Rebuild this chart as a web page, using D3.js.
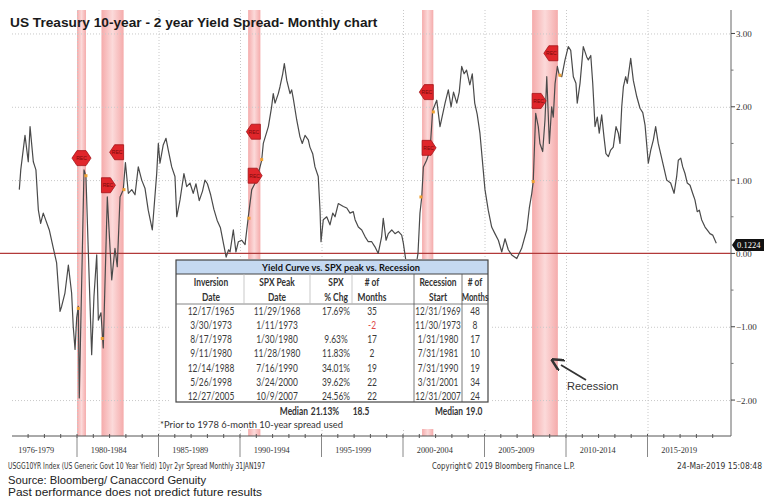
<!DOCTYPE html>
<html><head><meta charset="utf-8">
<script src="https://cdn.jsdelivr.net/npm/d3@7"></script>
<style>body{margin:0;background:#fff}svg{display:block}</style>
</head><body><svg id="c" width="764" height="496"></svg>
<script>
// ---------------- DATA ----------------
const dates = [1976.46,1976.55,1976.81,1977.01,1977.12,1977.32,1977.48,1977.63,1977.77,1977.93,1978.30,1978.55,1978.75,1978.96,1979.06,1979.26,1979.47,1979.67,1979.77,1979.88,1979.98,1980.08,1980.14,1980.43,1980.55,1980.69,1980.90,1981.04,1981.21,1981.31,1981.47,1981.61,1981.86,1982.13,1982.33,1982.47,1982.64,1982.84,1982.97,1983.15,1983.36,1983.56,1983.76,1983.97,1984.17,1984.37,1984.62,1984.89,1984.99,1985.09,1985.29,1985.46,1985.60,1985.81,1986.01,1986.12,1986.32,1986.56,1986.73,1986.93,1987.13,1987.30,1987.50,1987.70,1987.85,1988.00,1988.20,1988.40,1988.60,1988.80,1989.00,1989.15,1989.30,1989.39,1989.59,1989.75,1989.90,1990.10,1990.31,1990.51,1990.72,1990.86,1991.02,1991.33,1991.43,1991.74,1991.94,1992.04,1992.15,1992.35,1992.45,1992.62,1992.72,1992.87,1993.07,1993.17,1993.27,1993.48,1993.68,1993.82,1993.99,1994.19,1994.29,1994.46,1994.60,1994.80,1994.91,1994.97,1995.11,1995.32,1995.52,1995.69,1995.83,1996.03,1996.34,1996.55,1996.75,1996.95,1997.06,1997.26,1997.47,1997.67,1997.87,1998.08,1998.28,1998.48,1998.69,1998.79,1998.96,1999.10,1999.31,1999.51,1999.71,1999.92,2000.02,2000.17,2000.30,2000.50,2000.70,2000.85,2000.92,2001.04,2001.15,2001.25,2001.45,2001.66,2001.82,2002.07,2002.27,2002.58,2002.78,2002.95,2003.10,2003.30,2003.45,2003.60,2003.75,2003.90,2004.10,2004.25,2004.40,2004.55,2004.72,2005.03,2005.23,2005.44,2005.64,2005.85,2006.06,2006.26,2006.46,2006.67,2006.98,2007.28,2007.59,2007.75,2007.90,2007.99,2008.14,2008.30,2008.40,2008.57,2008.71,2008.82,2008.98,2009.12,2009.22,2009.33,2009.47,2009.59,2009.74,2009.94,2010.14,2010.29,2010.45,2010.61,2010.69,2010.86,2011.06,2011.27,2011.37,2011.52,2011.64,2011.78,2011.92,2012.04,2012.19,2012.33,2012.45,2012.60,2012.74,2012.90,2013.07,2013.21,2013.31,2013.42,2013.52,2013.66,2013.76,2013.97,2014.13,2014.34,2014.54,2014.71,2014.85,2015.05,2015.20,2015.36,2015.50,2015.66,2015.87,2016.18,2016.42,2016.63,2016.79,2016.89,2017.04,2017.16,2017.30,2017.44,2017.61,2017.77,2017.91,2018.05,2018.18,2018.32,2018.53,2018.73,2018.83,2019.00,2019.14,2019.22];
const spread = [0.87,1.14,1.61,1.25,1.73,1.25,1.14,0.59,0.41,0.55,0.32,0.07,-0.13,-0.79,-0.72,-0.54,-0.16,-0.54,-1.00,-1.31,-0.88,-0.72,-1.97,1.14,1.05,0.05,-1.38,-0.59,-0.02,-0.91,-0.81,-1.29,0.77,-0.36,0.07,-0.18,0.77,0.87,1.24,0.82,0.87,0.80,1.18,1.00,0.89,0.59,0.32,1.09,1.50,1.23,1.48,1.57,1.41,1.18,1.05,0.50,0.73,1.09,0.91,0.96,0.82,0.95,0.72,0.85,1.00,0.95,0.80,0.60,0.45,0.35,0.12,-0.05,0.05,0.02,0.32,0.02,0.16,0.18,0.12,0.50,0.87,0.93,1.00,1.27,1.50,1.73,2.00,2.18,2.05,2.18,2.27,2.45,2.59,2.36,2.18,2.23,2.11,1.82,1.59,1.50,1.61,1.55,1.45,1.36,1.18,1.05,0.59,0.16,0.46,0.50,0.39,0.55,0.50,0.68,0.64,0.62,0.55,0.57,0.46,0.36,0.32,0.23,0.16,0.16,0.09,0.00,0.23,0.48,0.18,0.27,0.32,0.27,0.30,0.25,0.14,-0.09,-0.45,-0.30,-0.20,-0.10,0.00,0.55,0.77,1.18,1.27,1.41,1.95,2.09,1.73,2.05,2.23,2.00,2.20,2.05,2.20,2.55,2.45,2.50,2.30,2.45,2.05,1.90,1.64,0.87,0.59,0.36,0.27,0.18,0.02,0.20,0.05,-0.02,-0.07,0.07,0.32,0.62,0.82,0.98,1.91,1.73,1.50,1.39,1.82,2.41,1.50,2.00,1.86,2.32,2.55,2.43,2.41,2.64,2.82,2.77,2.41,2.32,2.05,2.32,2.82,2.68,2.64,2.70,2.32,1.73,1.86,1.64,1.89,1.59,1.36,1.32,1.41,1.45,1.73,1.64,1.50,2.00,2.27,2.41,2.32,2.66,2.36,2.14,1.98,1.92,1.75,1.23,1.41,1.55,1.73,1.50,1.30,1.00,0.96,0.82,1.05,1.27,1.30,1.18,1.09,0.96,0.93,0.82,0.73,0.57,0.59,0.46,0.36,0.30,0.27,0.25,0.18,0.14];
const lastValue = "0.1224";

const recStart = [1980.0, 1981.5, 1990.5, 2001.17, 2007.92];
const recEnd   = [1980.55, 1982.86, 1991.25, 2001.86, 2009.5];
const recStartMarker = [1.30, 0.93, 1.06, 1.44, 2.08];
const recEndMarker   = [1.30, 1.38, 1.66, 2.20, 2.73];

const dotDates  = [1980.08, 1980.55, 1981.55, 1982.88, 1990.55, 1991.33, 2001.10, 2001.86, 2007.99, 2009.63];
const dotValues = [-0.75, 1.06, -1.16, 0.87, 0.48, 1.28, 0.77, 1.93, 0.98, 2.43];

const yTicks = [3, 2, 1, 0, -1, -2];
const yMinor = [2.5, 1.5, 0.5, -0.5, -1.5];
const periodStarts = [1976, 1980, 1985, 1990, 1995, 2000, 2005, 2010, 2015];
const periodLabels = ["1976-1979","1980-1984","1985-1989","1990-1994","1995-1999","2000-2004","2005-2009","2010-2014","2015-2019"];
const yearTicks = d3.range(1977, 2020);

const tableTitle = "Yield Curve vs. SPX peak vs. Recession";
const colHead1 = ["Inversion","SPX Peak","SPX","# of","Recession","# of"];
const colHead2 = ["Date","Date","% Chg","Months","Start","Months"];
const tableRows = [
  ["12/17/1965","11/29/1968","17.69%","35","12/31/1969","48"],
  ["3/30/1973","1/11/1973","","-2","11/30/1973","8"],
  ["8/17/1978","1/30/1980","9.63%","17","1/31/1980","17"],
  ["9/11/1980","11/28/1980","11.83%","2","7/31/1981","10"],
  ["12/14/1988","7/16/1990","34.01%","19","7/31/1990","19"],
  ["5/26/1998","3/24/2000","39.62%","22","3/31/2001","34"],
  ["12/27/2005","10/9/2007","24.56%","22","12/31/2007","24"]
];
const medianRow = ["Median","21.13%","18.5","Median","19.0"];
const footnote = "*Prior to 1978 6-month 10-year spread used";

// ---------------- CHART ----------------
const svg = d3.select("#c");
const W = 764;
const pL = 12, pR = 731, pT = 10, pB = 436;
const x = d3.scaleLinear().domain([1980, 2020]).range([77, 729]);
const y = d3.scaleLinear().domain([-2.49, 3.32]).range([pB, pT]);

const defs = svg.append("defs");
const g1 = defs.append("linearGradient").attr("id","recg").attr("x1","0").attr("x2","1").attr("y1","0").attr("y2","0");
g1.append("stop").attr("offset","0").attr("stop-color","#f39c9c");
g1.append("stop").attr("offset","0.5").attr("stop-color","#fbd3d3");
g1.append("stop").attr("offset","1").attr("stop-color","#f39c9c");
defs.append("marker").attr("id","arr").attr("viewBox","0 0 10 10").attr("refX",1).attr("refY",5)
  .attr("markerWidth",7).attr("markerHeight",7).attr("orient","auto")
  .append("path").attr("d","M0,0 L10,5 L0,10").attr("fill","none").attr("stroke","#333").attr("stroke-width",2);

// recession bars
svg.append("g").selectAll("rect").data(recStart).join("rect")
  .attr("x", d => x(d)).attr("width", (d,i) => x(recEnd[i]) - x(d))
  .attr("y", pT).attr("height", pB - pT)
  .attr("fill","url(#recg)").attr("opacity",0.85);

// gridlines
const grid = svg.append("g").attr("stroke","#c8c8c8").attr("stroke-dasharray","1,2").attr("stroke-width",1);
grid.selectAll("line.h").data(yTicks.filter(d => d !== 0)).join("line")
  .attr("x1", pL).attr("x2", pR).attr("y1", d => y(d)+0.5).attr("y2", d => y(d)+0.5);
grid.selectAll("line.v").data(periodStarts.slice(1)).join("line")
  .attr("y1", pT).attr("y2", pB).attr("x1", d => x(d)+0.5).attr("x2", d => x(d)+0.5);

// zero line
svg.append("line").attr("x1", 0).attr("x2", pR).attr("y1", y(0)).attr("y2", y(0))
  .attr("stroke","#b23a3a").attr("stroke-width",1.2);

// data line
const line = d3.line().x((d,i) => x(dates[i])).y(d => y(d));
svg.append("path").datum(spread).attr("d", line).attr("fill","none")
  .attr("stroke","#4a4a4a").attr("stroke-width",1.2).attr("stroke-linejoin","round");

// orange dots
svg.append("g").selectAll("rect").data(dotDates).join("rect")
  .attr("x", d => x(d) - 1.5).attr("y", (d,i) => y(dotValues[i]) - 1.5)
  .attr("width",3).attr("height",3).attr("fill","#f0a030");

// REC markers
const mk = svg.append("g");
const MW = 14, MH = 7.5, MT = 5;
function polyFrom(pts) { return pts.map(p => p[0] + "," + p[1]).join(" "); }
function recText(cx, cy) {
  mk.append("text").attr("x", cx).attr("y", cy + 1.8).attr("text-anchor","middle")
    .attr("font-family","Liberation Sans, Arial, sans-serif").attr("font-size",5).attr("fill","#7a0a0a").text("REC");
}
recStart.forEach((d,i) => {
  const xs = x(d), xe = x(recEnd[i]);
  const ys = y(recStartMarker[i]), ye = y(recEndMarker[i]);
  if (xe - xs < MW && Math.abs(ys - ye) < 1) {
    const a = xe - MW, b = xs + MW;
    mk.append("polygon").attr("points", polyFrom([[a,ys],[a+MT,ys-MH],[b-MT,ys-MH],[b,ys],[b-MT,ys+MH],[a+MT,ys+MH]]))
      .attr("fill","#e0262b").attr("stroke","#a31318").attr("stroke-width",0.8);
    recText((a+b)/2, ys);
  } else {
    mk.append("polygon").attr("points", polyFrom([[xs,ys-MH],[xs+MW-MT,ys-MH],[xs+MW,ys],[xs+MW-MT,ys+MH],[xs,ys+MH]]))
      .attr("fill","#e0262b").attr("stroke","#a31318").attr("stroke-width",0.8);
    recText(xs + 6.5, ys);
    mk.append("polygon").attr("points", polyFrom([[xe,ye-MH],[xe-MW+MT,ye-MH],[xe-MW,ye],[xe-MW+MT,ye+MH],[xe,ye+MH]]))
      .attr("fill","#e0262b").attr("stroke","#a31318").attr("stroke-width",0.8);
    recText(xe - 6.5, ye);
  }
});

// bottom axis
const ax = svg.append("g");
ax.append("line").attr("x1", pL).attr("x2", pR).attr("y1", pB).attr("y2", pB).attr("stroke","#555");
ax.selectAll("line.yt").data(yearTicks).join("line")
  .attr("x1", d => x(d)).attr("x2", d => x(d)).attr("y1", pB - 2).attr("y2", pB + 2).attr("stroke","#555");
ax.selectAll("line.sep").data(periodStarts.slice(1)).join("line")
  .attr("x1", d => x(d)).attr("x2", d => x(d)).attr("y1", pB).attr("y2", pB + 21).attr("stroke","#888");
ax.selectAll("text").data(periodLabels).join("text")
  .attr("x", (d,i) => i === 0 ? x(1977.5) : x(periodStarts[i] + 1.95))
  .attr("y", pB + 17).attr("text-anchor","middle")
  .attr("font-family","Liberation Serif, serif").attr("font-size",9).attr("fill","#333").text(d => d)
  .attr("textLength", 36).attr("lengthAdjust","spacingAndGlyphs");

// right axis
const ay = svg.append("g");
ay.append("line").attr("x1", pR).attr("x2", pR).attr("y1", pT).attr("y2", pB).attr("stroke","#666");
ay.selectAll("line.mj").data(yTicks).join("line")
  .attr("x1", pR).attr("x2", pR + 4).attr("y1", d => y(d)).attr("y2", d => y(d)).attr("stroke","#444");
ay.selectAll("line.mn").data(yMinor).join("line")
  .attr("x1", pR).attr("x2", pR + 2.5).attr("y1", d => y(d)).attr("y2", d => y(d)).attr("stroke","#777");
ay.selectAll("text").data(yTicks).join("text")
  .attr("x", pR + 5).attr("y", d => y(d) + 3.5).attr("font-family","Liberation Serif, serif")
  .attr("font-size",9).attr("fill","#333").text(d => d3.format(".2f")(d));

// last value label
const lv = y(+lastValue) + 0.5;
svg.append("path").attr("d", `M${pR+1},${lv} L${pR+5},${lv-6} L${W},${lv-6} L${W},${lv+6} L${pR+5},${lv+6} Z`).attr("fill","#111");
svg.append("text").attr("x", pR + 6).attr("y", lv + 3).attr("font-family","Liberation Serif, serif")
  .attr("font-size",8.5).attr("fill","#fff").text(lastValue);

// ---------------- TABLE ----------------
const T = svg.append("g");
const tx0 = 176, tx1 = 488, ty0 = 260, hdrH = 14, ty1 = 402;
function tt(xp, yp, t, opts) {
  if (!t) return;
  const s = T.append("text").attr("x", 0).attr("y", 0).attr("text-anchor", opts.anchor || "middle")
    .attr("font-family","Lato, 'Open Sans', sans-serif").attr("font-size", opts.size || 10.5)
    .attr("font-weight", opts.bold ? "bold" : "normal").attr("fill", opts.fill || "#333").text(t);
  const l = s.node().getComputedTextLength();
  const k = opts.width ? opts.width / l : (opts.cond || 0.8);
  s.attr("transform", `translate(${xp},${yp}) scale(${k},1)`);
  return s;
}
T.append("rect").attr("x", 170).attr("y", ty0 - 1).attr("width", 322).attr("height", 170).attr("fill","#fff");
T.append("rect").attr("x", tx0).attr("y", ty0).attr("width", tx1 - tx0).attr("height", hdrH).attr("fill","#c5d9f1");
T.append("rect").attr("x", tx0).attr("y", ty0).attr("width", tx1 - tx0).attr("height", ty1 - ty0)
  .attr("fill","none").attr("stroke","#444").attr("stroke-width",1.2);
T.append("line").attr("x1", tx0).attr("x2", tx1).attr("y1", ty0 + hdrH).attr("y2", ty0 + hdrH).attr("stroke","#444");
T.append("line").attr("x1", tx0).attr("x2", tx1).attr("y1", 304).attr("y2", 304).attr("stroke","#666").attr("stroke-width",0.8);
const colX = [211, 277, 336, 372, 438, 475];
const colB = [244, 310, 352, 414, 462];
colB.forEach((b, i) => {
  T.append("line").attr("x1", b).attr("x2", b).attr("y1", ty0 + hdrH).attr("y2", (i >= 3) ? ty1 : 304)
    .attr("stroke", i >= 3 ? "#555" : "#bbb").attr("stroke-width",0.8);
});
tt(341, ty0 + 10.5, tableTitle, {bold: true, fill: "#111", size: 10, width: 158});
colHead1.forEach((t,i) => tt(colX[i], 285.5, t, {bold: true}));
colHead2.forEach((t,i) => tt(colX[i], 300.5, t, {bold: true, cond: i === 5 ? 0.74 : 0.8}));
tableRows.forEach((r, ri) => r.forEach((t, ci) =>
  tt(colX[ci], 315 + ri * 14.15, t, {fill: t === "-2" ? "#e04848" : "#3a3a3a", cond: ci === 4 ? 0.78 : 0.8})));
const medX = [308, 325, 361, 449, 474];
medianRow.forEach((t,i) => tt(medX[i], 415, t, {bold: true, anchor: i === 0 ? "end" : "middle"}));
tt(160, 427.5, footnote, {anchor: "start", size: 10, width: 183});

// Recession annotation
svg.append("line").attr("x1", 586).attr("y1", 380).attr("x2", 561).attr("y2", 365)
  .attr("stroke","#333").attr("stroke-width",1.8).attr("marker-end","url(#arr)");
svg.append("text").attr("x", 567).attr("y", 390).attr("font-family","Liberation Sans, Arial, sans-serif")
  .attr("font-size",11).attr("fill","#333").text("Recession");

// ---------------- TITLE & FOOTER ----------------
function fit(sel, w) {
  const l = sel.node().getComputedTextLength();
  const fs = parseFloat(sel.attr("font-size"));
  sel.attr("font-size", fs * w / l);
}
const title = svg.append("text").attr("x", 10).attr("y", 27).attr("font-family","Liberation Sans, Arial, sans-serif")
  .attr("font-weight","bold").attr("font-size",16).attr("fill","#1a1a1a")
  .text("US Treasury 10-year - 2 year Yield Spread- Monthly chart");
fit(title, 368);

const bf = "'DejaVu Sans Condensed', 'Liberation Sans Narrow', sans-serif";
svg.append("text").attr("x", 8).attr("y", 469).attr("font-family",bf).attr("font-size",8).attr("fill","#333")
  .text("USGG10YR Index (US Generic Govt 10 Year Yield) 10yr 2yr Spread  Monthly 31JAN197")
  .attr("textLength", 257).attr("lengthAdjust","spacingAndGlyphs");
svg.append("text").attr("x", 432).attr("y", 469).attr("font-family",bf).attr("font-size",8).attr("fill","#333")
  .text("Copyright\u00a9 2019 Bloomberg Finance L.P.")
  .attr("textLength", 143).attr("lengthAdjust","spacingAndGlyphs");
svg.append("text").attr("x", 762).attr("y", 469).attr("text-anchor","end").attr("font-family",bf).attr("font-size",8).attr("fill","#333")
  .text("24-Mar-2019 15:08:48")
  .attr("textLength", 85).attr("lengthAdjust","spacingAndGlyphs");
svg.append("text").attr("x", 8).attr("y", 483.5).attr("font-family","Liberation Sans, Arial, sans-serif")
  .attr("font-size",11).attr("fill","#222").text("Source: Bloomberg/ Canaccord Genuity")
  .attr("textLength", 198).attr("lengthAdjust","spacingAndGlyphs");
svg.append("text").attr("x", 8).attr("y", 495.5).attr("font-family","Liberation Sans, Arial, sans-serif")
  .attr("font-size",11).attr("fill","#222").text("Past performance does not predict future results")
  .attr("textLength", 254).attr("lengthAdjust","spacingAndGlyphs");
</script></body></html>
